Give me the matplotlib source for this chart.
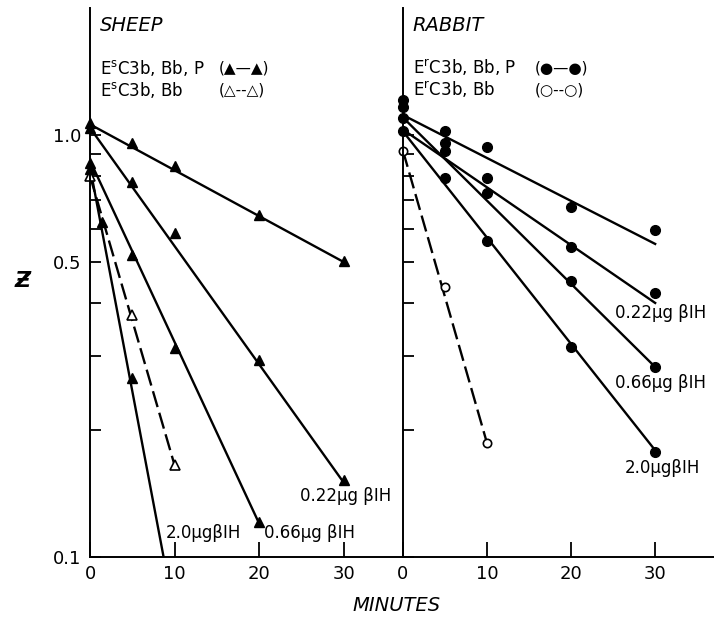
import numpy as np
import matplotlib
matplotlib.use("Agg")
from matplotlib import pyplot as plt

# Sheep erythrocytes (filled triangles = EsC3b,Bb,P ; open = EsC3b,Bb)
sheep_t_ctrl = [0, 5, 10, 20, 30]
sheep_ctrl = [1.07, 0.957, 0.845, 0.646, 0.503]
sheep_t_022 = [0, 5, 10, 20, 30]
sheep_022 = [1.04, 0.774, 0.586, 0.293, 0.152]
sheep_t_066 = [0, 5, 10, 20]
sheep_066 = [0.86, 0.519, 0.313, 0.121]
sheep_t_20 = [0, 1.4, 5]
sheep_20 = [0.83, 0.622, 0.266]
sheep_t_open = [0, 5, 10]
sheep_open = [0.80, 0.375, 0.165]

# fitted lines (t0, v0, t1, v1)
sheep_fits = [(0, 1.06, 30, 0.50), (0, 1.04, 30, 0.15),
              (0, 0.87, 20, 0.12), (0, 0.84, 8.7, 0.10)]
sheep_fit_open = (0, 0.80, 10, 0.165)

# Rabbit erythrocytes (filled circles = ErC3b,Bb,P ; open = ErC3b,Bb)
rabbit_t = [0, 5, 10, 20, 30]
rabbit_ctrl = [1.10, 1.02, 0.937, 0.675, 0.596]
rabbit_022 = [1.02, 0.957, 0.791, 0.543, 0.422]
rabbit_066 = [1.21, 0.917, 0.729, 0.451, 0.282]
rabbit_20 = [1.165, 0.791, 0.561, 0.315, 0.177]
rabbit_t_open = [0, 5, 10]
rabbit_open = [0.917, 0.436, 0.186]

rabbit_fits = [(0, 1.115, 30, 0.552), (0, 1.03, 30, 0.40),
               (0, 1.10, 30, 0.282), (0, 1.02, 30, 0.179)]
rabbit_fit_open = (0, 0.917, 10, 0.186)

xticks = [0, 10, 20, 30]
dose_labels = ["0.22\u03bcg \u03b2IH", "0.66\u03bcg \u03b2IH", "2.0\u03bcg\u03b2IH"]

plt.rcParams['font.family'] = ['DejaVu Sans']
fig = plt.figure(figsize=(7.14, 6.19), dpi=100)
ax1 = fig.add_axes([90/714, 62/619, 313/714, 549/619])
ax2 = fig.add_axes([403/714, 62/619, 311/714, 549/619])

lw = 1.7
dash = (7, 2.5)

for ax in (ax1, ax2):
    ax.set_yscale('log')
    ax.set_xlim(0, 37)
    ax.set_ylim(0.1, 2.0)
    ax.spines['top'].set_visible(False)
    ax.spines['right'].set_visible(False)
    ax.spines['left'].set_linewidth(1.4)
    ax.spines['bottom'].set_linewidth(1.4)
    ax.set_xticks(xticks)
    ax.set_xticklabels([str(x) for x in xticks], fontsize=13)
    ax.tick_params(axis='x', direction='in', length=11, width=1.3, pad=6)
    ax.set_yticks([0.1, 0.5, 1.0])
    ax.set_yticks([0.2, 0.3, 0.4, 0.6, 0.7, 0.8, 0.9], minor=True)
    ax.tick_params(axis='y', which='both', direction='in', length=8, width=1.3, pad=6)
    ax.yaxis.set_minor_formatter(plt.NullFormatter())

ax1.set_yticklabels(['0.1', '0.5', '1.0'], fontsize=13)
ax2.set_yticklabels([])


def fit_line(ax, f, dashed=False):
    t0, v0, t1, v1 = f
    ln, = ax.plot([t0, t1], [v0, v1], color='black', lw=lw, clip_on=True)
    if dashed:
        ln.set_dashes(dash)


for f in sheep_fits:
    fit_line(ax1, f)
fit_line(ax1, sheep_fit_open, dashed=True)
for t, v in [(sheep_t_ctrl, sheep_ctrl), (sheep_t_022, sheep_022),
             (sheep_t_066, sheep_066), (sheep_t_20, sheep_20)]:
    ax1.plot(t, v, '^', color='black', ms=6.5, ls='none', clip_on=False)
ax1.plot(sheep_t_open, sheep_open, '^', mfc='white', mec='black', mew=1.2,
         ms=6.5, ls='none', clip_on=False)

for f in rabbit_fits:
    fit_line(ax2, f)
fit_line(ax2, rabbit_fit_open, dashed=True)
for v in [rabbit_ctrl, rabbit_022, rabbit_066, rabbit_20]:
    ax2.plot(rabbit_t, v, 'o', color='black', ms=7, ls='none', clip_on=False)
ax2.plot(rabbit_t_open, rabbit_open, 'o', mfc='white', mec='black', mew=1.2,
         ms=6, ls='none', clip_on=False)

# panel titles and key text
ax1.text(0.032, 0.969, 'SHEEP', transform=ax1.transAxes, fontsize=14,
         style='italic', va='center')
ax1.text(0.032, 0.891, r'E$^{\mathrm{s}}$C3b, Bb, P', transform=ax1.transAxes,
         fontsize=12, va='center')
ax1.text(0.41, 0.891, '(\u25b2\u2014\u25b2)', transform=ax1.transAxes,
         fontsize=11, va='center')
ax1.text(0.032, 0.851, r'E$^{\mathrm{s}}$C3b, Bb', transform=ax1.transAxes,
         fontsize=12, va='center')
ax1.text(0.41, 0.851, '(\u25b3--\u25b3)', transform=ax1.transAxes,
         fontsize=11, va='center')

ax2.text(0.032, 0.969, 'RABBIT', transform=ax2.transAxes, fontsize=14,
         style='italic', va='center')
ax2.text(0.032, 0.891, r'E$^{\mathrm{r}}$C3b, Bb, P', transform=ax2.transAxes,
         fontsize=12, va='center')
ax2.text(0.424, 0.891, '(\u25cf\u2014\u25cf)', transform=ax2.transAxes,
         fontsize=11, va='center')
ax2.text(0.032, 0.851, r'E$^{\mathrm{r}}$C3b, Bb', transform=ax2.transAxes,
         fontsize=12, va='center')
ax2.text(0.424, 0.851, '(\u25cb--\u25cb)', transform=ax2.transAxes,
         fontsize=11, va='center')

# dose labels
ax1.text(24.8, 0.1395, dose_labels[0], fontsize=12, va='center')
ax1.text(20.6, 0.114, dose_labels[1], fontsize=12, va='center')
ax1.text(8.9, 0.114, dose_labels[2], fontsize=12, va='center')
ax2.text(25.2, 0.379, dose_labels[0], fontsize=12, va='center')
ax2.text(25.2, 0.258, dose_labels[1], fontsize=12, va='center')
ax2.text(26.4, 0.1625, dose_labels[2], fontsize=12, va='center')

fig.text(0.556, 0.0226, 'MINUTES', fontsize=14, style='italic', ha='center', va='center')
fig.text(0.032, 0.546, '\u01b5', fontsize=16, style='italic', weight='bold',
         ha='center', va='center')

fig.savefig('out.png', dpi=100)
